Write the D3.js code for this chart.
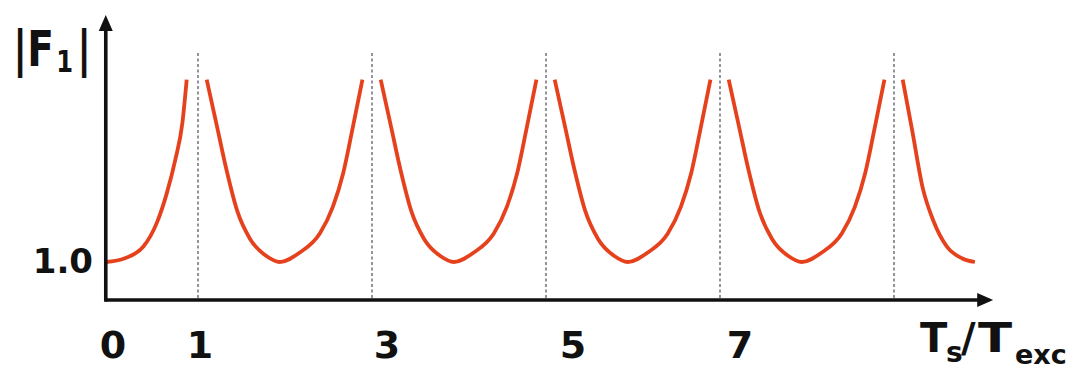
<!DOCTYPE html>
<html>
<head>
<meta charset="utf-8">
<script src="https://cdn.jsdelivr.net/npm/d3@7"></script>
<style>
  html, body { margin: 0; padding: 0; background: #fff; }
  svg { display: block; }
  text { font-family: "DejaVu Sans", Verdana, sans-serif; font-weight: bold; fill: #111; }
</style>
</head>
<body>
<svg id="chart" width="1076" height="372"></svg>
<script>
// Ratio Ts/Texc at which |F1| diverges (resonances)
const resonances = [1, 3, 5, 7, 9];

// Tick labels shown under the horizontal axis
const tickValues = [0, 1, 3, 5, 7];
const tickLabels = ["0", "1", "3", "5", "7"];

// Reference level on the vertical axis
const yTickValue = 1.0;
const yTickLabel = "1.0";

// |F1| branches between resonances: [Ts/Texc, |F1|]
const branch0 = [[-0.06, 1.00], [0.16, 1.02], [0.37, 1.08], [0.53, 1.21], [0.64, 1.36], [0.74, 1.54], [0.82, 1.73], [0.87, 1.96]];
const branch1 = [[1.10, 1.96], [1.22, 1.71], [1.33, 1.48], [1.45, 1.27], [1.60, 1.12], [1.79, 1.03], [1.94, 1.00], [2.17, 1.05], [2.40, 1.15], [2.55, 1.29], [2.67, 1.47], [2.78, 1.71], [2.89, 1.96]];
const branch2 = [[3.10, 1.96], [3.22, 1.71], [3.33, 1.48], [3.45, 1.27], [3.60, 1.12], [3.79, 1.03], [3.94, 1.00], [4.17, 1.05], [4.40, 1.15], [4.55, 1.29], [4.67, 1.47], [4.78, 1.71], [4.89, 1.96]];
const branch3 = [[5.10, 1.96], [5.22, 1.71], [5.33, 1.48], [5.45, 1.27], [5.60, 1.12], [5.79, 1.03], [5.94, 1.00], [6.17, 1.05], [6.40, 1.15], [6.55, 1.29], [6.67, 1.47], [6.78, 1.71], [6.89, 1.96]];
const branch4 = [[7.10, 1.96], [7.22, 1.71], [7.33, 1.48], [7.45, 1.27], [7.60, 1.12], [7.79, 1.03], [7.94, 1.00], [8.17, 1.05], [8.40, 1.15], [8.55, 1.29], [8.67, 1.47], [8.78, 1.71], [8.89, 1.96]];
const branch5 = [[9.10, 1.96], [9.21, 1.69], [9.33, 1.39], [9.45, 1.22], [9.61, 1.08], [9.78, 1.02], [9.93, 1.00]];
const branches = [branch0, branch1, branch2, branch3, branch4, branch5];

const svg = d3.select("#chart");

const x = d3.scaleLinear().domain([1, 9]).range([198, 894]);
const y = d3.scaleLinear().domain([0.8, 2.0]).range([300, 72]);

const xStart = -0.06;      // where both axes meet
const xEnd = 10.14;        // tip of the horizontal arrow
const yEnd = 2.3;          // tip of the vertical arrow
const ox = x(xStart), oy = y(0.8);

// dashed guides at each resonance
svg.append("g")
  .selectAll("line")
  .data(resonances)
  .join("line")
  .attr("x1", d => x(d)).attr("x2", d => x(d))
  .attr("y1", y(2.1)).attr("y2", oy)
  .attr("stroke", "#5a5a66")
  .attr("stroke-width", 1.3)
  .attr("stroke-dasharray", "3,2.5");

// |F1| curve
const line = d3.line()
  .x(d => x(d[0]))
  .y(d => y(d[1]))
  .curve(d3.curveMonotoneX);

svg.append("g")
  .selectAll("path")
  .data(branches)
  .join("path")
  .attr("d", line)
  .attr("fill", "none")
  .attr("stroke", "#e6411d")
  .attr("stroke-width", 3.8)
  .attr("stroke-linecap", "butt")
  .attr("stroke-linejoin", "round");

// axes with arrowheads
const axes = svg.append("g").attr("stroke", "#111").attr("stroke-width", 3.6);
axes.append("line")
  .attr("x1", ox).attr("y1", oy)
  .attr("x2", x(xEnd) - 12).attr("y2", oy);
axes.append("line")
  .attr("x1", ox).attr("y1", oy + 1.8)
  .attr("x2", ox).attr("y2", y(yEnd) + 12);

svg.append("path")
  .attr("d", `M${x(xEnd)},${oy} L${x(xEnd) - 16},${oy - 7} L${x(xEnd) - 16},${oy + 7} Z`)
  .attr("fill", "#111");
svg.append("path")
  .attr("d", `M${ox},${y(yEnd)} L${ox - 7},${y(yEnd) + 16} L${ox + 7},${y(yEnd) + 16} Z`)
  .attr("fill", "#111");

// horizontal tick labels
const labelNudge = [2, 2, 15, 27, 20];
svg.append("g")
  .selectAll("text")
  .data(tickValues)
  .join("text")
  .attr("x", (d, i) => x(d) + labelNudge[i])
  .attr("y", 358)
  .attr("text-anchor", "middle")
  .attr("font-size", 38)
  .text((d, i) => tickLabels[i]);

// vertical reference label
svg.append("text")
  .attr("x", 93)
  .attr("y", y(yTickValue) + 11)
  .attr("text-anchor", "end")
  .attr("font-size", 34)
  .text(yTickLabel);

// vertical axis title |F1|
const yt = svg.append("text")
  .attr("x", 13)
  .attr("y", 66)
  .attr("font-size", 50)
  .attr("transform", "translate(13,0) scale(0.78,1) translate(-13,0)");
yt.append("tspan").text("|F");
yt.append("tspan").attr("font-size", 31).attr("dy", 6).attr("dx", 3).text("1");
yt.append("tspan").attr("dy", -6).attr("dx", 5).text("|");

// horizontal axis title Ts/Texc, one text per piece
const xTitle = svg.append("g").attr("class", "x-title");
xTitle.append("text").attr("x", 920).attr("y", 352).attr("font-size", 40).text("T");
xTitle.append("text").attr("x", 946).attr("y", 362).attr("font-size", 28).text("s");
xTitle.append("text").attr("x", 961).attr("y", 352).attr("font-size", 40).text("/");
xTitle.append("text").attr("x", 978).attr("y", 352).attr("font-size", 40)
  .attr("transform", "translate(978,0) scale(1.25,1) translate(-978,0)").text("T");
xTitle.append("text").attr("x", 1015).attr("y", 364).attr("font-size", 27).text("exc");
</script>
</body>
</html>
